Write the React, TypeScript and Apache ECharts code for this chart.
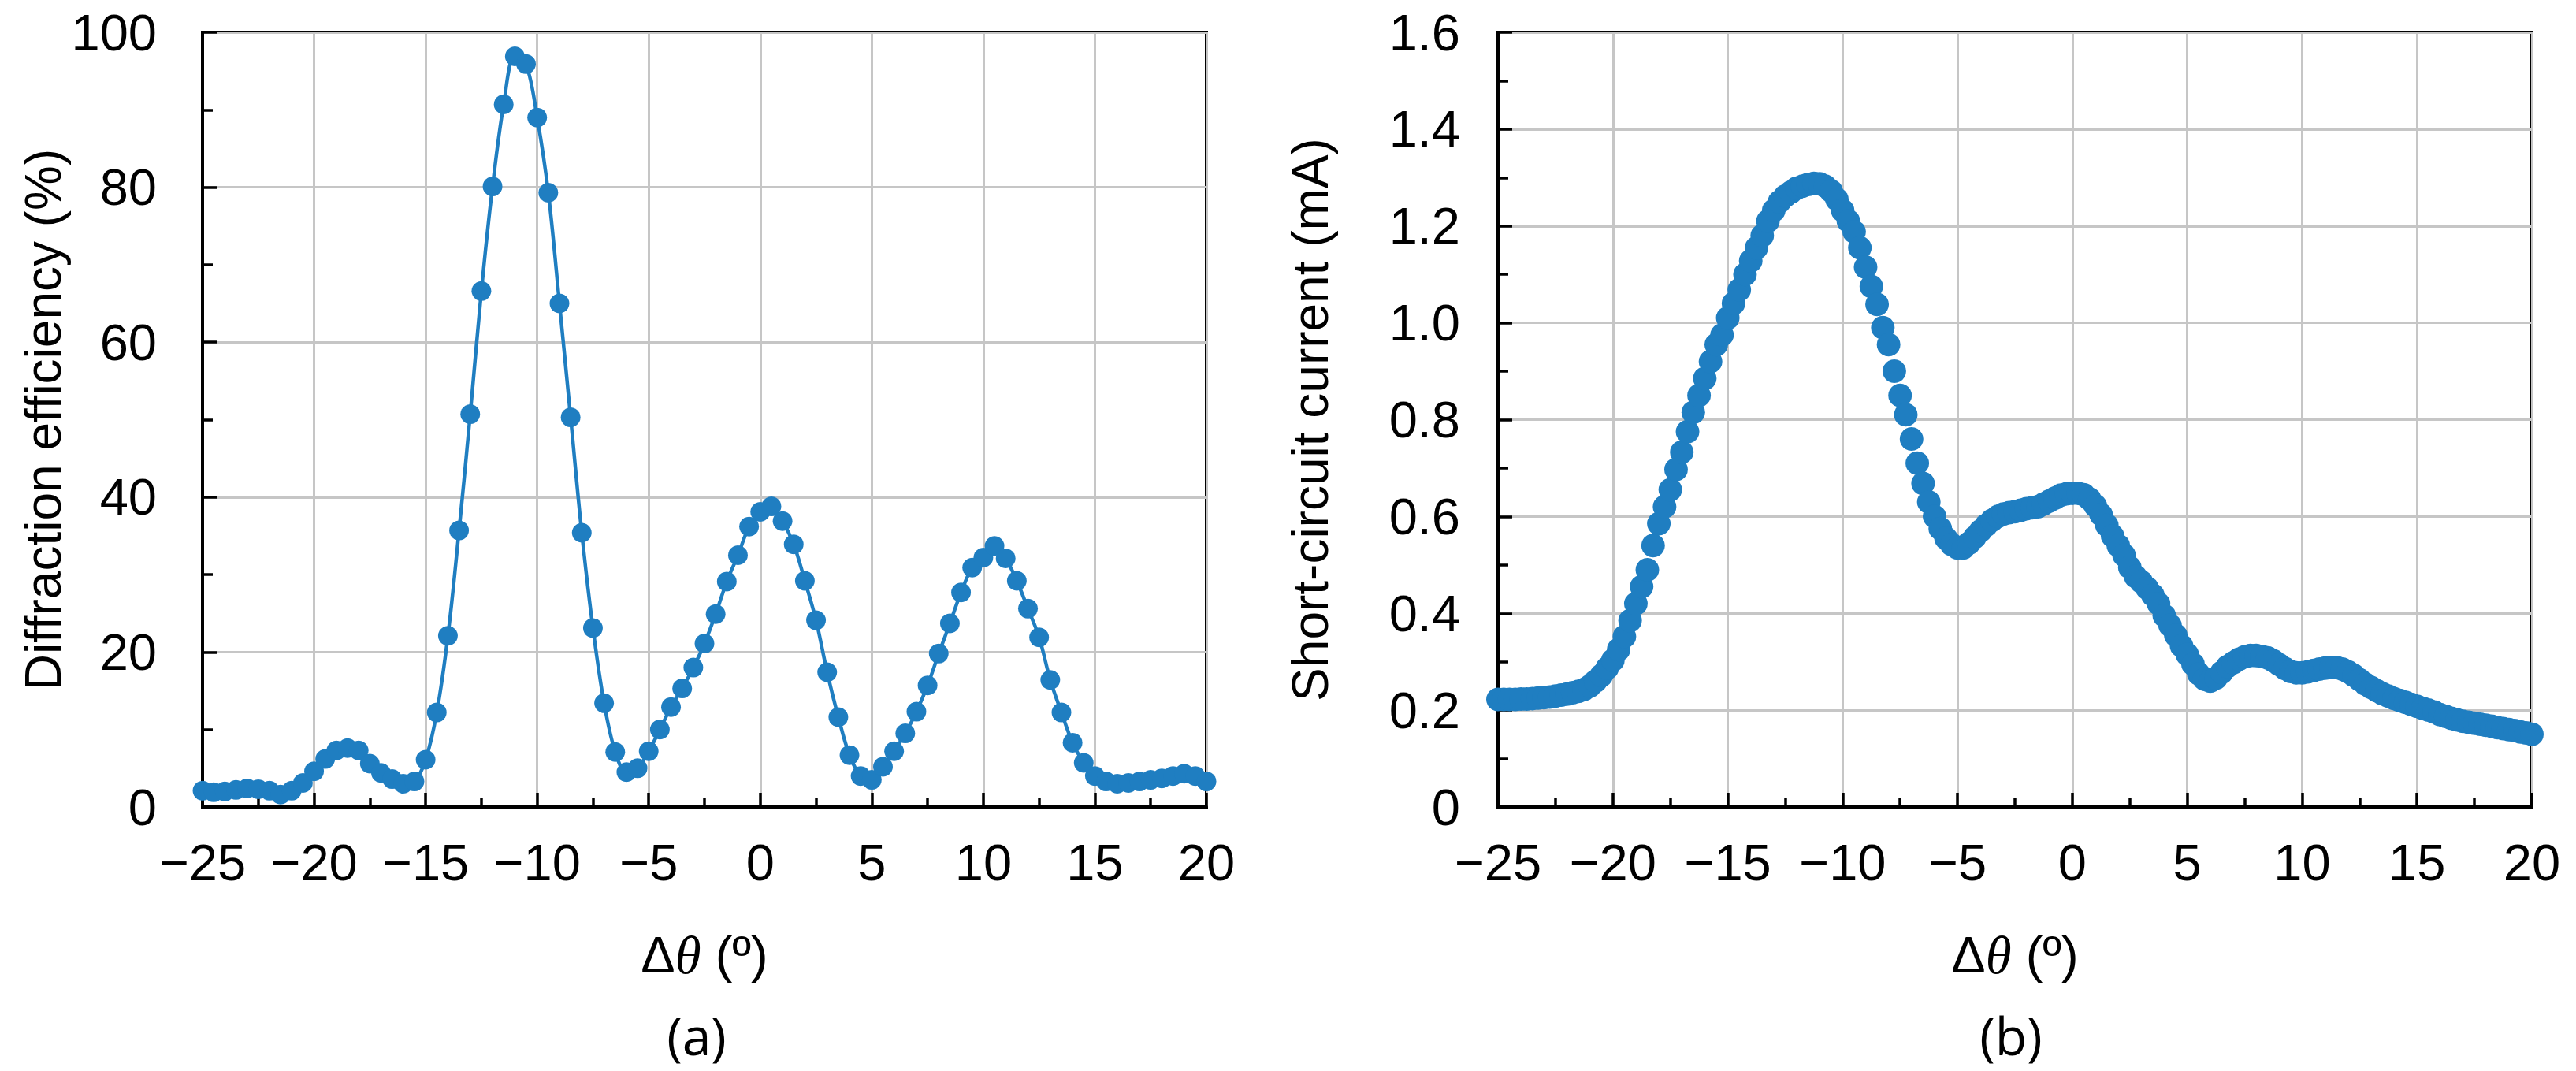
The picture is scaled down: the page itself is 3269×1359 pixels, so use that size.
import React, { useEffect, useRef } from "react";
import * as echarts from "echarts";

// ---------- data: panel (a) diffraction efficiency (%) vs Δθ, 0.5° steps ----------
const THETA_A_START = -25;
const THETA_A_STEP = 0.5;
const EFFICIENCY = [
  2.1, 1.9, 2.0, 2.2, 2.4, 2.3, 2.1, 1.6, 2.1, 3.1,
  4.6, 6.2, 7.3, 7.6, 7.3, 5.6, 4.4, 3.6, 3.0, 3.3,
  6.1, 12.2, 22.1, 35.7, 50.7, 66.6, 80.1, 90.7, 96.9, 95.9,
  89.0, 79.3, 65.0, 50.3, 35.4, 23.1, 13.4, 7.1, 4.5, 5.0,
  7.2, 10.0, 12.9, 15.3, 18.0, 21.1, 24.9, 29.1, 32.5, 36.2,
  38.1, 38.8, 36.9, 33.9, 29.2, 24.1, 17.4, 11.6, 6.7, 4.0,
  3.5, 5.2, 7.2, 9.5, 12.3, 15.7, 19.8, 23.7, 27.7, 30.9,
  32.2, 33.7, 32.1, 29.2, 25.6, 21.9, 16.4, 12.2, 8.3, 5.7,
  4.0, 3.3, 3.0, 3.1, 3.3, 3.5, 3.7, 4.0, 4.3, 4.0,
  3.3,
];

// ---------- data: panel (b) short-circuit current (mA) vs Δθ, 0.25° steps ----------
const THETA_B_START = -25;
const THETA_B_STEP = 0.25;
const CURRENT = [
  0.222, 0.222, 0.222, 0.222, 0.223, 0.223, 0.224, 0.225, 0.226, 0.227,
  0.229, 0.231, 0.233, 0.236, 0.239, 0.243, 0.250, 0.260, 0.272, 0.287,
  0.303, 0.325, 0.352, 0.385, 0.420, 0.455, 0.490, 0.540, 0.585, 0.620,
  0.655, 0.697, 0.733, 0.775, 0.815, 0.850, 0.885, 0.920, 0.955, 0.975,
  1.010, 1.040, 1.068, 1.100, 1.128, 1.155, 1.180, 1.210, 1.232, 1.250,
  1.262, 1.270, 1.278, 1.282, 1.286, 1.288, 1.287, 1.282, 1.272, 1.255,
  1.232, 1.210, 1.188, 1.155, 1.115, 1.075, 1.038, 0.990, 0.955, 0.900,
  0.850, 0.810, 0.760, 0.710, 0.668, 0.630, 0.600, 0.575, 0.555, 0.542,
  0.535, 0.535, 0.545, 0.557, 0.570, 0.582, 0.592, 0.600, 0.605, 0.608,
  0.610, 0.613, 0.616, 0.618, 0.620, 0.626, 0.632, 0.638, 0.644, 0.647,
  0.648, 0.648, 0.645, 0.636, 0.622, 0.604, 0.582, 0.560, 0.540, 0.520,
  0.495, 0.476, 0.465, 0.452, 0.438, 0.420, 0.395, 0.375, 0.355, 0.333,
  0.315, 0.295, 0.275, 0.264, 0.260, 0.266, 0.278, 0.290, 0.298, 0.305,
  0.310, 0.313, 0.313, 0.311, 0.308, 0.302, 0.294, 0.286, 0.280, 0.277,
  0.277, 0.279, 0.282, 0.285, 0.287, 0.288, 0.288, 0.285, 0.279, 0.272,
  0.263, 0.254, 0.247, 0.240, 0.234, 0.229, 0.224, 0.220, 0.216, 0.212,
  0.208, 0.204, 0.200, 0.196, 0.191, 0.187, 0.183, 0.180, 0.177, 0.175,
  0.173, 0.171, 0.169, 0.167, 0.164, 0.162, 0.160, 0.158, 0.155, 0.153,
  0.150,
];

// ---------- axis ranges / labels ----------
const X_MIN = -25;
const X_MAX = 20;
const X_INTERVAL = 5;
const YA_MAX = 100;
const YA_INTERVAL = 20;
const YB_MAX = 1.6;
const YB_INTERVAL = 0.2;
const YA_TITLE = "Diffraction efficiency (%)";
const YB_TITLE = "Short-circuit current (mA)";
const PANEL_LABELS = ["(a)", "(b)"];

const BLUE = "#1f7ec1";
const FONT = "Liberation Sans";

const pairsA = EFFICIENCY.map((v, i) => [THETA_A_START + i * THETA_A_STEP, v]);
const pairsB = CURRENT.map((v, i) => [THETA_B_START + i * THETA_B_STEP, v]);

const minusFmt = (v: number) => (v < 0 ? "\u2212" + Math.abs(v) : String(v));

function xAxis(gridIndex: number) {
  return {
    type: "value",
    gridIndex,
    min: X_MIN,
    max: X_MAX,
    interval: X_INTERVAL,
    axisLine: { show: true, onZero: false, lineStyle: { color: "#000", width: 4 } },
    axisTick: { show: true, inside: true, length: 18, lineStyle: { color: "#000", width: 3.5 } },
    minorTick: { show: true, splitNumber: 2, length: 12, lineStyle: { color: "#000", width: 3.5 } },
    splitLine: { show: true, lineStyle: { color: "#c6c6c6", width: 3 } },
    axisLabel: { color: "#000", fontSize: 65, fontFamily: FONT, margin: 38, formatter: minusFmt },
    name: "{n|\u0394}{i|\u03b8}{n| (\u00ba)}",
    nameLocation: "middle",
    nameGap: 154,
    nameTextStyle: {
      rich: {
        n: { fontSize: 65, fontFamily: FONT, color: "#000" },
        i: { fontSize: 67, fontFamily: "Liberation Serif", fontStyle: "italic", color: "#000" },
      },
    },
  };
}

function yAxis(gridIndex: number, max: number, interval: number, title: string, margin: number, nameGap: number, fmt: (v: number) => string) {
  return {
    type: "value",
    gridIndex,
    min: 0,
    max,
    interval,
    axisLine: { show: true, onZero: false, lineStyle: { color: "#000", width: 4 } },
    axisTick: { show: true, inside: true, length: 18, lineStyle: { color: "#000", width: 3.5 } },
    minorTick: { show: true, splitNumber: 2, length: 13, lineStyle: { color: "#000", width: 3.5 } },
    splitLine: { show: true, lineStyle: { color: "#c6c6c6", width: 3 } },
    axisLabel: { color: "#000", fontSize: 65, fontFamily: FONT, margin, formatter: fmt },
    name: title,
    nameLocation: "middle",
    nameRotate: 90,
    nameGap,
    nameTextStyle: { color: "#000", fontSize: 64, fontFamily: FONT },
  };
}

export default function App() {
  const ref = useRef<HTMLDivElement>(null);
  useEffect(() => {
    document.body.style.margin = "0";
    if (!ref.current) return;
    const chart = echarts.init(ref.current, undefined, { renderer: "svg" });
    chart.setOption({
      animation: false,
      backgroundColor: "#fff",
      grid: [
        { left: 257, top: 41, width: 1274, height: 983, show: true, borderColor: "#000", borderWidth: 4, backgroundColor: "transparent" },
        { left: 1901, top: 41, width: 1312, height: 983, show: true, borderColor: "#000", borderWidth: 4, backgroundColor: "transparent" },
      ],
      xAxis: [xAxis(0), xAxis(1)],
      yAxis: [
        yAxis(0, YA_MAX, YA_INTERVAL, YA_TITLE, 58, 168, (v: number) => String(v)),
        yAxis(1, YB_MAX, YB_INTERVAL, YB_TITLE, 48, 206, (v: number) => (v === 0 ? "0" : v.toFixed(1))),
      ],
      series: [
        {
          type: "line",
          xAxisIndex: 0,
          yAxisIndex: 0,
          data: pairsA,
          smooth: 0.35,
          clip: false,
          symbol: "circle",
          symbolSize: 25,
          showAllSymbol: true,
          lineStyle: { color: BLUE, width: 4.5 },
          itemStyle: { color: BLUE },
        },
        {
          type: "scatter",
          xAxisIndex: 1,
          yAxisIndex: 1,
          data: pairsB,
          clip: false,
          symbol: "circle",
          symbolSize: 30,
          itemStyle: { color: BLUE, opacity: 1 },
        },
      ],
      graphic: [
        { type: "text", x: 884, y: 1313, style: { text: PANEL_LABELS[0], fontSize: 66, fontFamily: "Open Sans", fill: "#000", align: "center", verticalAlign: "middle" } },
        { type: "text", x: 2552, y: 1313, style: { text: PANEL_LABELS[1], fontSize: 66, fontFamily: "Open Sans", fill: "#000", align: "center", verticalAlign: "middle" } },
      ],
    });
    return () => chart.dispose();
  }, []);
  return <div ref={ref} style={{ width: 3269, height: 1359 }} />;
}
